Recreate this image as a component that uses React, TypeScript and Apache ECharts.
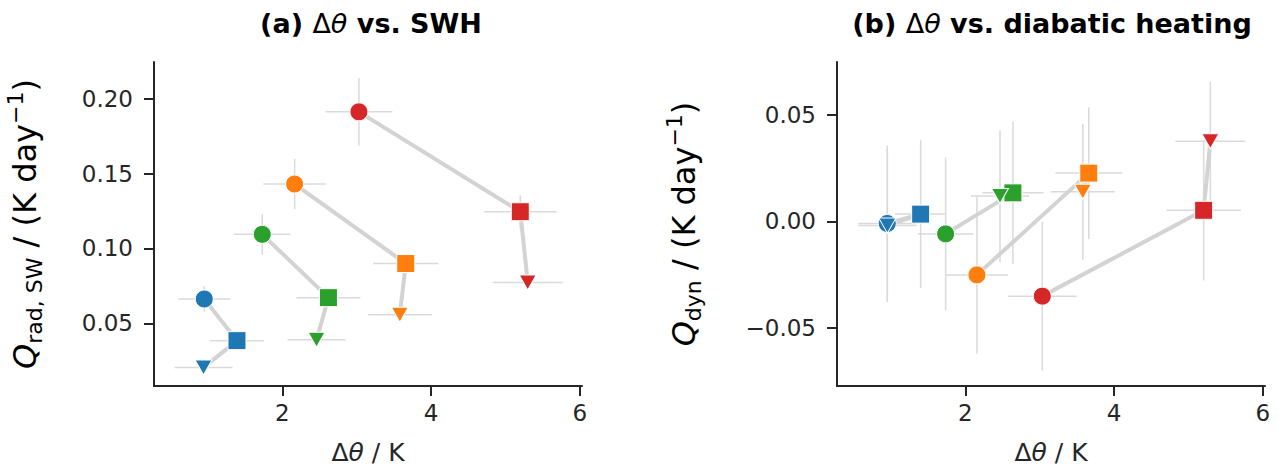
import React, { useEffect, useRef } from 'react';
import * as echarts from 'echarts';

// group order: blue, orange, green, red
const COLORS = ['#1f77b4', '#ff7f0e', '#2ca02c', '#d62728'];

// Panel (a): [x, y, xerr, yerr]
const A_CIRCLES = [
  [0.95, 0.0662, 0.35, 0.0085],
  [2.165, 0.143, 0.42, 0.0167],
  [1.73, 0.1094, 0.38, 0.0136],
  [3.03, 0.1912, 0.45, 0.0224],
];
const A_SQUARES = [
  [1.39, 0.0384, 0.36, 0.004],
  [3.66, 0.0899, 0.44, 0.004],
  [2.62, 0.0671, 0.43, 0.004],
  [5.2, 0.1245, 0.49, 0.011],
];
const A_TRIANGLES = [
  [0.94, 0.0204, 0.39, 0.004],
  [3.58, 0.0557, 0.43, 0.004],
  [2.46, 0.039, 0.39, 0.004],
  [5.3, 0.0772, 0.47, 0.004],
];

// Panel (b): [x, y, xerr, yerr]
const B_CIRCLES = [
  [0.95, -0.001, 0.39, 0.0367],
  [2.156, -0.0252, 0.42, 0.037],
  [1.735, -0.0059, 0.37, 0.036],
  [3.035, -0.0352, 0.46, 0.035],
];
const B_SQUARES = [
  [1.399, 0.0034, 0.345, 0.0348],
  [3.66, 0.0227, 0.45, 0.031],
  [2.64, 0.0134, 0.41, 0.0336],
  [5.205, 0.0052, 0.5, 0.033],
];
const B_TRIANGLES = [
  [0.951, -0.002, 0.39, 0.036],
  [3.58, 0.0139, 0.43, 0.032],
  [2.466, 0.0119, 0.39, 0.031],
  [5.295, 0.0377, 0.47, 0.028],
];

const X_TICKS = [2, 4, 6];
const A_Y_TICKS = [0.05, 0.1, 0.15, 0.2];
const B_Y_TICKS = [-0.05, 0, 0.05];

const FONT = 'DejaVu Sans';
const INK = '#262626';
const ERR_COLOR = '#dadada';
const LINK_COLOR = '#d3d3d3';

const fmtY = (v: number) => {
  const s = Math.abs(v).toFixed(2);
  return v < -1e-9 ? '\u2212' + s : s;
};

function panelSeries(idx: number, circles: number[][], squares: number[][], triangles: number[][]) {
  const series: any[] = [];
  const all = [...circles, ...squares, ...triangles];
  series.push({
    type: 'custom',
    xAxisIndex: idx,
    yAxisIndex: idx,
    z: 1,
    silent: true,
    data: all,
    encode: { x: 0, y: 1 },
    renderItem: (_p: any, api: any) => {
      const x = api.value(0);
      const y = api.value(1);
      const xe = api.value(2);
      const ye = api.value(3);
      const l = api.coord([x - xe, y]);
      const r = api.coord([x + xe, y]);
      const t = api.coord([x, y + ye]);
      const b = api.coord([x, y - ye]);
      const st = { stroke: ERR_COLOR, lineWidth: 1.5 };
      return {
        type: 'group',
        children: [
          { type: 'line', shape: { x1: l[0], y1: l[1], x2: r[0], y2: r[1] }, style: st },
          { type: 'line', shape: { x1: t[0], y1: t[1], x2: b[0], y2: b[1] }, style: st },
        ],
      };
    },
  });
  COLORS.forEach((_c, i) => {
    series.push({
      type: 'line',
      xAxisIndex: idx,
      yAxisIndex: idx,
      z: 2,
      symbol: 'none',
      silent: true,
      lineStyle: { color: LINK_COLOR, width: 4 },
      data: [circles[i], squares[i], triangles[i]].map((d) => [d[0], d[1]]),
    });
  });
  const shapes: [number[][], string, any, number][] = [
    [circles, 'circle', 18, 0],
    [squares, 'rect', 18, 0],
    [triangles, 'triangle', [17, 15], 180],
  ];
  shapes.forEach(([arr, sym, size, rot], k) => {
    series.push({
      type: 'scatter',
      xAxisIndex: idx,
      yAxisIndex: idx,
      z: 3 + k,
      symbol: sym,
      symbolSize: size,
      symbolRotate: rot,
      data: arr.map((d, i) => ({
        value: [d[0], d[1]],
        itemStyle: { color: COLORS[i], borderColor: '#ffffff', borderWidth: 1, opacity: 1 },
      })),
    });
  });
  return series;
}

const richBase = { fontFamily: FONT, color: INK };

function xAxis(idx: number) {
  return {
    type: 'value',
    gridIndex: idx,
    min: 0.274,
    max: 6.03,
    splitLine: { show: false },
    axisLine: { show: true, onZero: false, lineStyle: { color: INK, width: 2 } },
    axisTick: { show: true, length: 10, customValues: X_TICKS, lineStyle: { color: INK, width: 2 } },
    axisLabel: { customValues: X_TICKS, fontSize: 23, margin: 15, color: INK, fontFamily: FONT },
    name: 'Δ{i|θ} / K',
    nameLocation: 'middle',
    nameGap: 54,
    nameTextStyle: {
      fontSize: 25,
      fontFamily: FONT,
      color: INK,
      rich: { i: { ...richBase, fontSize: 25, fontStyle: 'italic' } },
    },
  };
}

function yAxis(idx: number, min: number, max: number, ticks: number[], name: string, gap: number) {
  return {
    type: 'value',
    gridIndex: idx,
    min,
    max,
    splitLine: { show: false },
    axisLine: { show: true, onZero: false, lineStyle: { color: INK, width: 2 } },
    axisTick: { show: true, length: 10, customValues: ticks, lineStyle: { color: INK, width: 2 } },
    axisLabel: {
      customValues: ticks,
      fontSize: 23,
      margin: 21,
      color: INK,
      fontFamily: FONT,
      formatter: (v: number) => fmtY(v),
    },
    name,
    nameLocation: 'middle',
    nameGap: gap,
    nameRotate: 90,
    nameTextStyle: {
      fontSize: 32,
      fontFamily: FONT,
      color: '#000000',
      lineHeight: 41,
      rich: {
        q: { fontFamily: FONT, color: '#000000', fontSize: 32, fontStyle: 'italic', lineHeight: 41 },
        sub: { fontFamily: FONT, color: '#000000', fontSize: 22, lineHeight: 22, verticalAlign: 'bottom' },
        sup: { fontFamily: FONT, color: '#000000', fontSize: 22, lineHeight: 22, verticalAlign: 'top' },
      },
    },
  };
}

function titleCfg(text: string, cx: number) {
  return {
    text,
    left: cx,
    top: 5,
    textAlign: 'center',
    textStyle: {
      fontSize: 27,
      fontWeight: 'bold',
      fontFamily: FONT,
      color: '#000000',
      rich: {
        n: { fontFamily: FONT, fontSize: 27, fontWeight: 'normal', color: '#000000' },
        i: { fontFamily: FONT, fontSize: 27, fontWeight: 'normal', fontStyle: 'italic', color: '#000000' },
      },
    },
  };
}

export default function App() {
  const ref = useRef<HTMLDivElement>(null);
  useEffect(() => {
    if (!ref.current) return;
    const chart = echarts.init(ref.current, undefined, { renderer: 'svg' });
    chart.setOption({
      animation: false,
      backgroundColor: '#ffffff',
      title: [
        titleCfg('(a) {n|Δ}{i|θ} vs. SWH', 366),
        titleCfg('(b) {n|Δ}{i|θ} vs. diabatic heating', 1047),
      ],
      grid: [
        { left: 154, top: 62, width: 428, height: 329 },
        { left: 837, top: 62, width: 428, height: 329 },
      ],
      xAxis: [xAxis(0), xAxis(1)],
      yAxis: [
        yAxis(0, 0.0081, 0.2245, A_Y_TICKS, '{q|Q}{sub|rad, SW} / (K day{sup|\u22121})', 109),
        yAxis(1, -0.0775, 0.075, B_Y_TICKS, '{q|Q}{sub|dyn} / (K day{sup|\u22121})', 133),
      ],
      series: [
        ...panelSeries(0, A_CIRCLES, A_SQUARES, A_TRIANGLES),
        ...panelSeries(1, B_CIRCLES, B_SQUARES, B_TRIANGLES),
      ],
    });
    return () => chart.dispose();
  }, []);
  return (
    <div
      ref={ref}
      style={{ position: 'fixed', left: 0, top: 0, width: 1282, height: 470, background: '#fff' }}
    />
  );
}
